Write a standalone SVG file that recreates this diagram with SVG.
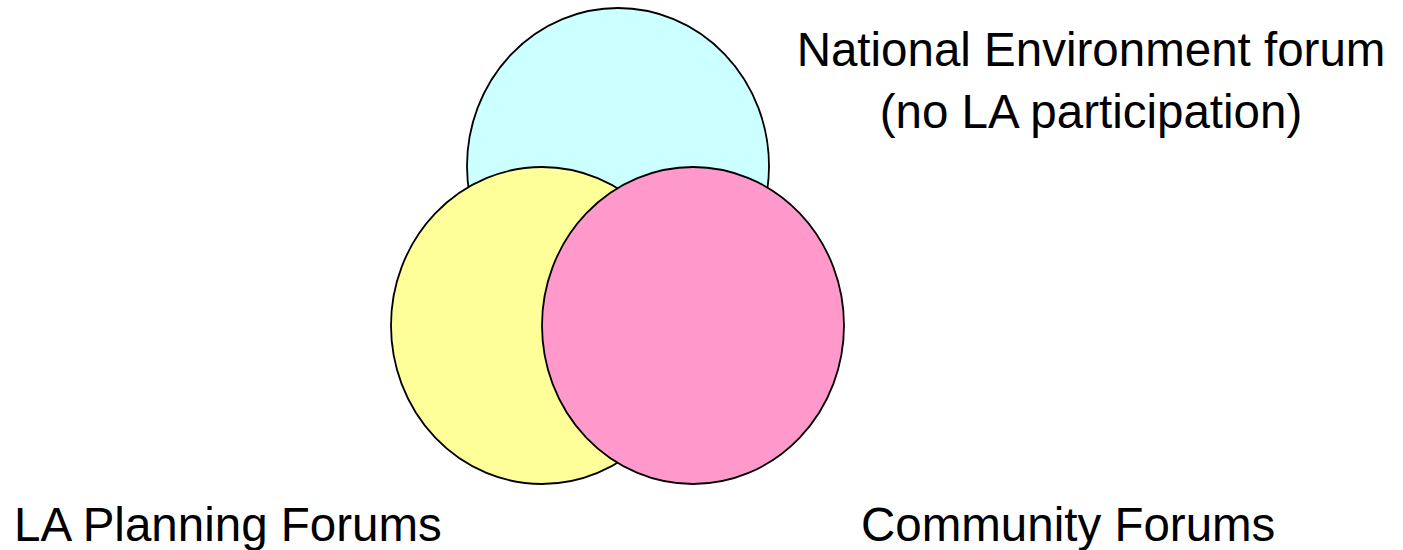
<svg xmlns="http://www.w3.org/2000/svg" width="1403" height="550" viewBox="0 0 1403 550">
<style>
.c{stroke:#000;stroke-width:1.8}
.t{font-family:"Liberation Sans",Arial,sans-serif;font-size:47.5px;fill:#000}
</style>
<rect width="1403" height="550" fill="#fff"/>
<g id="national">
<ellipse class="c" cx="618" cy="166" rx="151" ry="158" fill="#CCFFFF"/>
<text class="t" x="1091" y="66" text-anchor="middle">National Environment forum</text>
<text class="t" x="1091" y="128" text-anchor="middle">(no LA participation)</text>
</g>
<g id="la-planning">
<ellipse class="c" cx="542" cy="325.5" rx="151" ry="158.5" fill="#FFFF99"/>
<text class="t" x="14" y="541">LA Planning Forums</text>
</g>
<g id="community">
<ellipse class="c" cx="693" cy="325.5" rx="151" ry="158.5" fill="#FF99CC"/>
<text class="t" x="861" y="541">Community Forums</text>
</g>
<g id="connectors"/>
</svg>
